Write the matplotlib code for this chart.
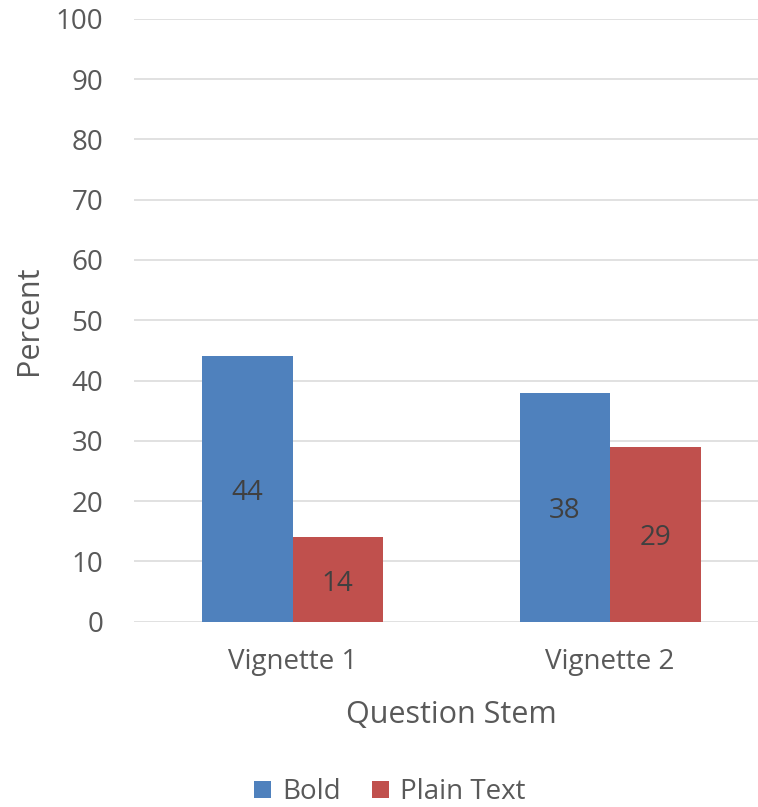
import matplotlib.pyplot as plt
import numpy as np

categories = ["Vignette 1", "Vignette 2"]
series_names = ["Bold", "Plain Text"]
bold_values = [44, 38]
plain_values = [14, 29]
y_ticks = [0, 10, 20, 30, 40, 50, 60, 70, 80, 90, 100]

colors = ["#4F81BD", "#C0504D"]
plt.rcParams['font.family'] = ['Open Sans', 'DejaVu Sans']

fig = plt.figure(figsize=(7.58, 8.07), dpi=100)
ax = fig.add_axes([0.1765, 0.2296, 0.8377, 0.7472])

x = np.arange(len(categories))
w = 0.285
bars = []
for i, (vals, name) in enumerate(zip([bold_values, plain_values], series_names)):
    b = ax.bar(x + (i - 0.5) * w, vals, width=w, color=colors[i], label=name, zorder=3)
    bars.append(b)
    for rect, v in zip(b, vals):
        ax.annotate(str(v), (rect.get_x() + rect.get_width() / 2, v / 2),
                    xytext=(0, -3), textcoords='offset points',
                    ha='center', va='center', fontsize=20, color='#404040', zorder=4)

ax.set_xlim(-0.5, 1.5)
ax.set_ylim(0, 100)
ax.set_yticks(y_ticks)
ax.set_xticks(x)
ax.set_xticklabels(categories)
ax.grid(axis='y', color='#D9D9D9', linewidth=1.1, zorder=0)
ax.set_axisbelow(True)
for s in ax.spines.values():
    s.set_visible(False)
ax.tick_params(axis='both', length=0, labelsize=20, colors='#595959')
ax.tick_params(axis='y', pad=22)
ax.tick_params(axis='x', pad=19)

ax.set_xlabel("Question Stem", fontsize=22, color='#595959', labelpad=17)
ax.set_ylabel("Percent", fontsize=22, color='#595959', labelpad=8)

fig.legend(handles=bars, labels=series_names, loc='lower center',
           bbox_to_anchor=(0.5145, -0.030), ncol=2, frameon=False, fontsize=20,
           handlelength=0.6, handleheight=0.6, handletextpad=0.4,
           columnspacing=1.13, labelcolor='#595959')

fig.savefig("out.png", dpi=100)
